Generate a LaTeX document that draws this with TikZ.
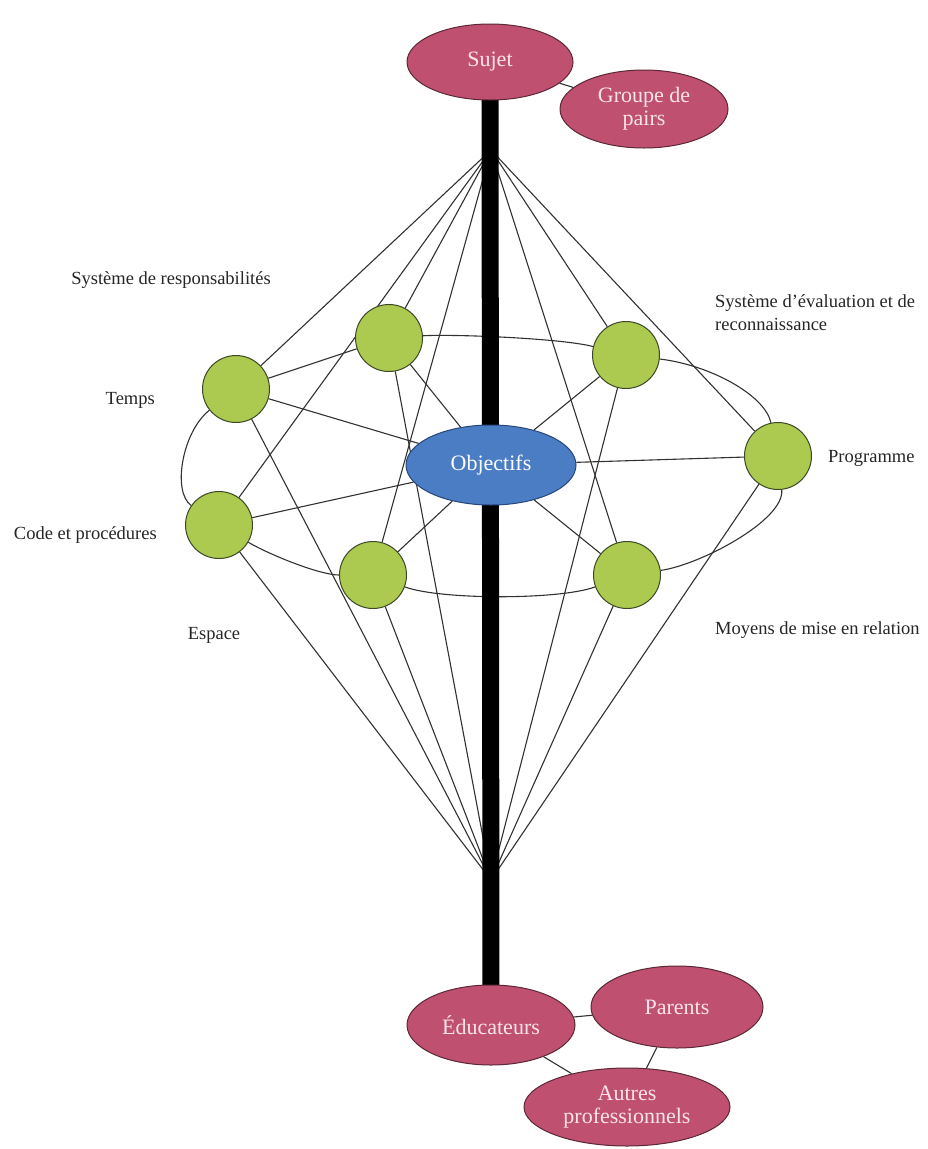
\documentclass[tikz,border=0pt]{standalone}
\usepackage{fontspec}
\setmainfont{Liberation Serif}
\usetikzlibrary{shapes.geometric}
\pgfdeclarelayer{bg}
\pgfdeclarelayer{mid}
\pgfsetlayers{bg,mid,main}
\definecolor{pinkfill}{RGB}{192,80,112}
\definecolor{pinkline}{RGB}{90,40,55}
\definecolor{greenfill}{RGB}{171,202,79}
\definecolor{greenline}{RGB}{60,72,40}
\definecolor{bluefill}{RGB}{74,125,196}
\definecolor{blueline}{RGB}{40,70,120}
\definecolor{pinktext}{RGB}{250,228,235}
\definecolor{linecol}{RGB}{50,50,50}
\begin{document}
\begin{tikzpicture}[x=1pt,y=-1pt,
  pinknode/.style={ellipse, draw=pinkline, line width=1pt, fill=pinkfill, text=pinktext, inner sep=0pt, font=\fontsize{22}{23}\selectfont, align=center},
  greennode/.style={circle, draw=greenline, line width=1pt, fill=greenfill, minimum size=67pt, inner sep=0pt},
  bluenode/.style={ellipse, draw=blueline, line width=1pt, fill=bluefill, text=white, minimum width=170pt, minimum height=80pt, inner sep=0pt, font=\fontsize{22}{24}\selectfont},
  lbl/.style={font=\fontsize{18.5}{23}\selectfont, text=black!85, inner sep=0pt},
  conn/.style={draw=linecol, line width=1.1pt},
  axisbar/.style={line width=17pt, draw=black}
]
\useasboundingbox (0,0) rectangle (928,1149);
\begin{pgfonlayer}{bg}
\fill[white] (0,0) rectangle (928,1149);
\end{pgfonlayer}

% main nodes
\node[pinknode, minimum width=166pt, minimum height=76pt] (sujet) at (490,62) {Sujet};
\node[pinknode, minimum width=168pt, minimum height=78pt] (groupe) at (644,109) {Groupe de\\pairs};
\node[bluenode] (obj) at (491,465) {Objectifs};
\node[greennode] (temps) at (236,389) {};
\node[greennode] (resp) at (389,338) {};
\node[greennode] (eval) at (626,355) {};
\node[greennode] (prog) at (778,456) {};
\node[greennode] (moyens) at (627,575) {};
\node[greennode] (espace) at (373,575) {};
\node[greennode] (code) at (219,525) {};
\node[pinknode, minimum width=168pt, minimum height=80pt] (educ) at (491,1025) {Éducateurs};
\node[pinknode, minimum width=172pt, minimum height=82pt] (parents) at (677,1007) {Parents};
\node[pinknode, minimum width=206pt, minimum height=78pt] (autres) at (627,1107) {Autres\\professionnels};

% labels
\node[lbl] (lresp) at (171,280) {Système de responsabilités};
\node[lbl, align=left, anchor=west] (leval) at (715,313) {Système d’évaluation et de\\reconnaissance};
\node[lbl, anchor=east] (ltemps) at (155,400) {Temps};
\node[lbl, anchor=east] (lcode) at (157,535) {Code et procédures};
\node[lbl] (lespace) at (214,635) {Espace};
\node[lbl, anchor=west] (lprog) at (828,458) {Programme};
\node[lbl, anchor=west] (lmoyens) at (715,630) {Moyens de mise en relation};

\coordinate (hubT) at (491,150);
\coordinate (hubB) at (491,880);

\begin{pgfonlayer}{bg}
\foreach \n in {temps,resp,eval,prog,moyens,espace,code}{
  \draw[conn] (hubT) -- (\n);
  \draw[conn] (hubB) -- (\n);
  \draw[conn] (obj) -- (\n);
}
% ring
\draw[conn] (temps) -- (resp);
\draw[conn] (resp) .. controls (450,334) and (560,338) .. (eval);
\draw[conn] (eval) .. controls (710,365) and (765,395) .. (prog);
\draw[conn] (prog) .. controls (785,520) and (700,565) .. (moyens);
\draw[conn] (moyens) .. controls (560,600) and (440,600) .. (espace);
\draw[conn] (espace) .. controls (320,575) and (270,555) .. (code);
\draw[conn] (code) .. controls (172,492) and (182,432) .. (temps);
% pink links
\draw[conn] (sujet) -- (groupe);
\draw[conn] (educ) -- (parents);
\draw[conn] (educ) -- (autres);
\draw[conn] (parents) -- (autres);
\end{pgfonlayer}

\begin{pgfonlayer}{mid}
\draw[axisbar] (sujet.center) -- (educ.center);
\end{pgfonlayer}
\end{tikzpicture}
\end{document}
